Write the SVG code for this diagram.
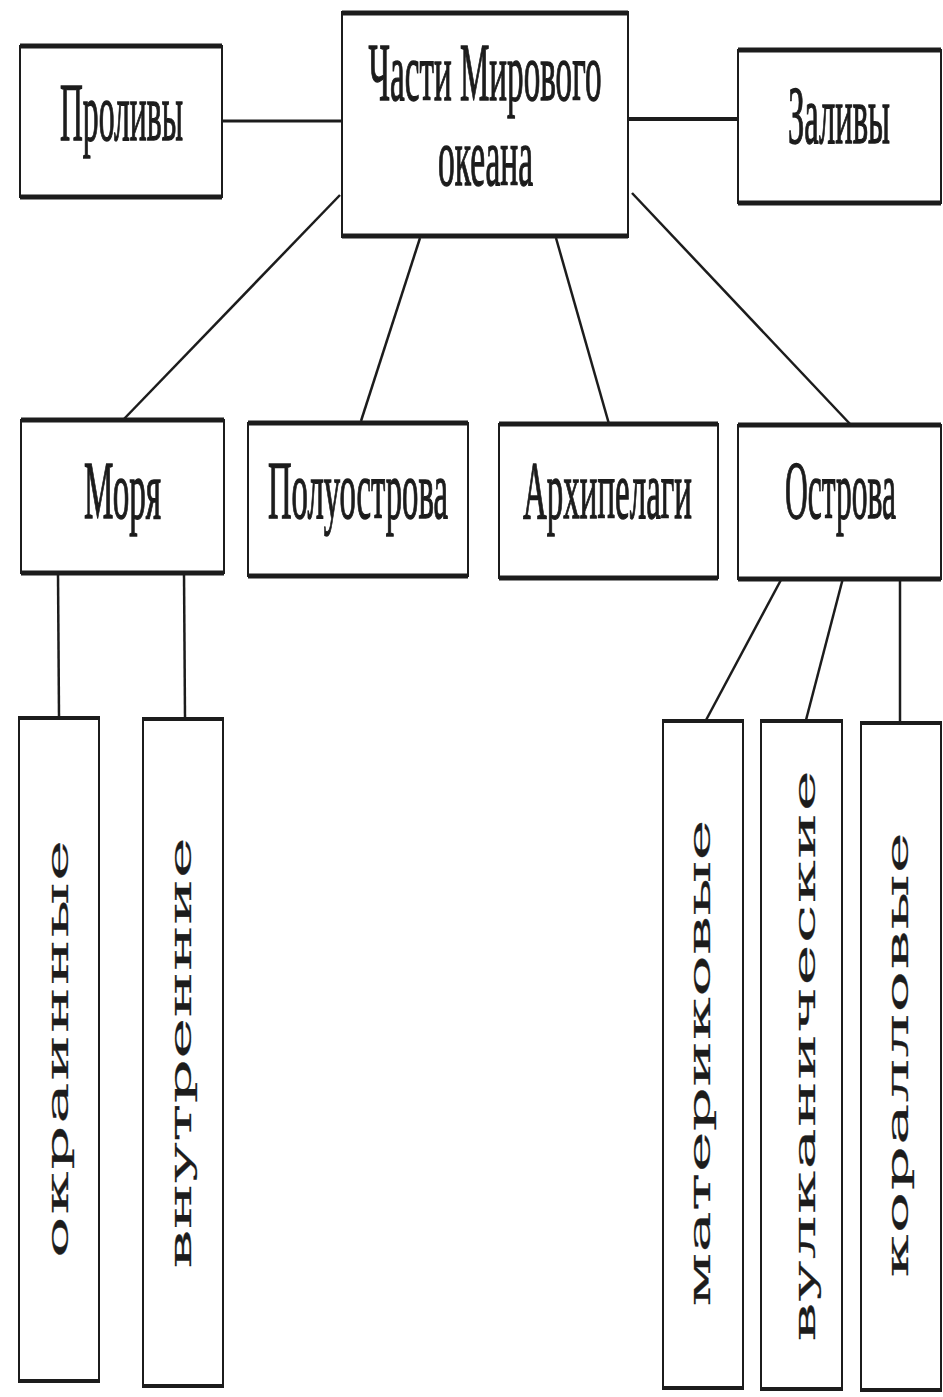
<svg xmlns="http://www.w3.org/2000/svg" width="943" height="1397" viewBox="0 0 943 1397">
<style>
.bx{fill:#fff;stroke:#1c1c1c;stroke-width:2}
.tb{stroke:#1c1c1c;stroke-width:5;fill:none}
.ln{stroke:#1c1c1c;stroke-width:2.5;fill:none}
.h{font-family:"Liberation Serif","DejaVu Serif",serif;font-size:41px;fill:#1c1c1c;stroke:#1c1c1c;stroke-width:0.7px;text-anchor:middle}
.v{font-family:"DejaVu Serif","Liberation Serif",serif;font-size:30px;fill:#1c1c1c;stroke:#1c1c1c;stroke-width:0.2px;text-anchor:middle}
</style>
<rect width="943" height="1397" fill="#fff"/>
<g id="connectors">
<line class="ln" x1="222" y1="121" x2="342" y2="121" style="stroke-width:3"/>
<line class="ln" x1="628" y1="119" x2="738" y2="119" style="stroke-width:4"/>
<line class="ln" x1="340" y1="195" x2="123" y2="420"/>
<line class="ln" x1="420" y1="238" x2="361" y2="421"/>
<line class="ln" x1="556" y1="238" x2="609" y2="424"/>
<line class="ln" x1="632" y1="193" x2="851" y2="425"/>
<line class="ln" x1="58" y1="573" x2="59" y2="717"/>
<line class="ln" x1="184" y1="573" x2="185" y2="718"/>
<line class="ln" x1="782" y1="578" x2="705" y2="722"/>
<line class="ln" x1="843" y1="578" x2="806" y2="720"/>
<line class="ln" x1="900" y1="578" x2="900" y2="722"/>
</g>
<g id="center">
<rect class="bx" x="342" y="12" width="286" height="225"/>
<path class="tb" d="M342 13H628M342 236H628"/>
<text class="h" transform="translate(485,100) scale(1,2)" textLength="233" lengthAdjust="spacingAndGlyphs">Части Мирового</text>
<text class="h" transform="translate(485.5,185) scale(1,2)" textLength="95" lengthAdjust="spacingAndGlyphs">океана</text>
</g>
<g id="prolivy">
<rect class="bx" x="20" y="46" width="202" height="151"/>
<path class="tb" d="M20 46H222M20 197H222"/>
<text class="h" transform="translate(121.5,140) scale(1,2)" textLength="123" lengthAdjust="spacingAndGlyphs">Проливы</text>
</g>
<g id="zalivy">
<rect class="bx" x="738" y="50" width="203" height="153"/>
<path class="tb" d="M738 50H941M738 203H941"/>
<text class="h" transform="translate(839,143) scale(1,2)" textLength="102" lengthAdjust="spacingAndGlyphs">Заливы</text>
</g>
<g id="morya">
<rect class="bx" x="21" y="420" width="203" height="153"/>
<path class="tb" d="M21 420H224M21 573H224"/>
<text class="h" transform="translate(122.5,518) scale(1,2)" textLength="77" lengthAdjust="spacingAndGlyphs">Моря</text>
</g>
<g id="poluostrova">
<rect class="bx" x="248" y="423" width="220" height="153"/>
<path class="tb" d="M248 423H468M248 576H468"/>
<text class="h" transform="translate(358,518) scale(1,2)" textLength="180" lengthAdjust="spacingAndGlyphs">Полуострова</text>
</g>
<g id="arhipelagi">
<rect class="bx" x="499" y="424" width="219" height="154"/>
<path class="tb" d="M499 424H718M499 578H718"/>
<text class="h" transform="translate(607.5,518) scale(1,2)" textLength="169" lengthAdjust="spacingAndGlyphs">Архипелаги</text>
</g>
<g id="ostrova">
<rect class="bx" x="738" y="425" width="203" height="154"/>
<path class="tb" d="M738 425H941M738 579H941"/>
<text class="h" transform="translate(840.5,518) scale(1,2)" textLength="111" lengthAdjust="spacingAndGlyphs">Острова</text>
</g>
<g id="okrainnye">
<rect class="bx" x="19" y="717" width="80" height="665"/>
<path class="tb" d="M19 718H99M19 1381H99" style="stroke-width:4"/>
<g transform="translate(68,1049) rotate(-90)"><g transform="scale(2.3,1)"><text class="v" textLength="181.7" lengthAdjust="spacing">окраинные</text></g></g>
</g>
<g id="vnutrennie">
<rect class="bx" x="143" y="718" width="80" height="669"/>
<path class="tb" d="M143 719H223M143 1386H223" style="stroke-width:4"/>
<g transform="translate(191,1053) rotate(-90)"><g transform="scale(2.3,1)"><text class="v" textLength="187.4" lengthAdjust="spacing">внутренние</text></g></g>
</g>
<g id="materikovye">
<rect class="bx" x="663" y="720" width="80" height="669"/>
<path class="tb" d="M663 721H743M663 1388H743" style="stroke-width:4"/>
<g transform="translate(710,1063) rotate(-90)"><g transform="scale(2.3,1)"><text class="v" textLength="211.7" lengthAdjust="spacing">материковые</text></g></g>
</g>
<g id="vulkanicheskie">
<rect class="bx" x="761" y="720" width="81" height="670"/>
<path class="tb" d="M761 721H842M761 1389H842" style="stroke-width:4"/>
<g transform="translate(815,1056) rotate(-90)"><g transform="scale(2.3,1)"><text class="v" textLength="248.3" lengthAdjust="spacing">вулканические</text></g></g>
</g>
<g id="korallovye">
<rect class="bx" x="861" y="722" width="80" height="669"/>
<path class="tb" d="M861 723H941M861 1390H941" style="stroke-width:4"/>
<g transform="translate(908,1055) rotate(-90)"><g transform="scale(2.3,1)"><text class="v" textLength="193.5" lengthAdjust="spacing">коралловые</text></g></g>
</g>
</svg>
